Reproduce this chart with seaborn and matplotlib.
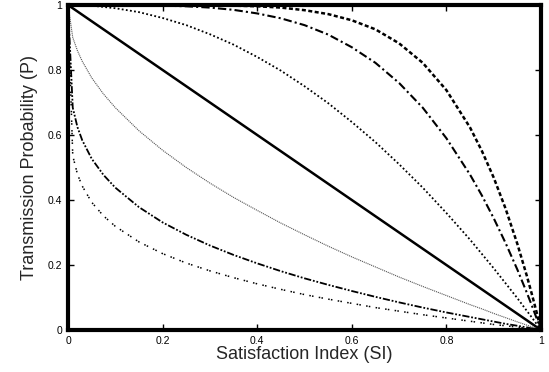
import pandas as pd
import matplotlib
matplotlib.use("Agg")
import matplotlib.pyplot as plt
import seaborn as sns

# values
si = [0, 0.01, 0.02, 0.03, 0.05, 0.075, 0.1, 0.15, 0.2, 0.25, 0.3, 0.35, 0.4, 0.45,
      0.5, 0.55, 0.6, 0.65, 0.7, 0.75, 0.8, 0.85, 0.875, 0.9, 0.925, 0.95, 0.97,
      0.98, 0.99, 1]

p_linear = [1, 0.99, 0.98, 0.97, 0.95, 0.925, 0.9, 0.85, 0.8, 0.75, 0.7, 0.65, 0.6, 0.55,
            0.5, 0.45, 0.4, 0.35, 0.3, 0.25, 0.2, 0.15, 0.125, 0.1, 0.075, 0.05, 0.03,
            0.02, 0.01, 0]

p_high1 = [1, 1, 1, 0.999, 0.998, 0.994, 0.99, 0.978, 0.96, 0.938, 0.91, 0.878, 0.84, 0.798,
           0.75, 0.698, 0.64, 0.578, 0.51, 0.438, 0.36, 0.278, 0.234, 0.19, 0.144, 0.098, 0.059,
           0.04, 0.02, 0]
p_high2 = [1, 1, 1, 1, 1, 1, 1, 0.9995, 0.998, 0.996, 0.992, 0.985, 0.974, 0.959,
           0.938, 0.909, 0.87, 0.822, 0.76, 0.684, 0.59, 0.478, 0.414, 0.344, 0.268, 0.186, 0.115,
           0.078, 0.039, 0]
p_high3 = [1, 1, 1, 1, 1, 1, 1, 1, 1, 1, 0.999, 0.998, 0.996, 0.992,
           0.984, 0.972, 0.953, 0.925, 0.882, 0.822, 0.738, 0.623, 0.551, 0.469, 0.374, 0.265, 0.167,
           0.114, 0.059, 0]

p_low1 = [1, 0.9, 0.859, 0.827, 0.776, 0.726, 0.684, 0.613, 0.553, 0.5, 0.452, 0.408, 0.368, 0.329,
          0.293, 0.258, 0.225, 0.194, 0.163, 0.134, 0.106, 0.078, 0.065, 0.051, 0.038, 0.025, 0.015,
          0.01, 0.005, 0]
p_low2 = [1, 0.684, 0.624, 0.584, 0.527, 0.477, 0.438, 0.378, 0.331, 0.293, 0.26, 0.231, 0.205, 0.181,
          0.159, 0.139, 0.12, 0.102, 0.085, 0.069, 0.054, 0.04, 0.033, 0.026, 0.019, 0.013, 0.008,
          0.005, 0.003, 0]
p_low3 = [1, 0.536, 0.479, 0.443, 0.393, 0.351, 0.319, 0.271, 0.235, 0.206, 0.182, 0.161, 0.142, 0.125,
          0.109, 0.095, 0.082, 0.069, 0.058, 0.047, 0.037, 0.027, 0.022, 0.017, 0.013, 0.009, 0.005,
          0.003, 0.002, 0]

x_ticks = [0, 0.2, 0.4, 0.6, 0.8, 1]
x_tick_labels = ["0", "0.2", "0.4", "0.6", "0.8", "1"]
y_ticks = [0, 0.2, 0.4, 0.6, 0.8, 1]
y_tick_labels = ["0", "0.2", "0.4", "0.6", "0.8", "1"]

sns.set_style("ticks")
plt.rcParams['font.family'] = ['Liberation Sans', 'DejaVu Sans']

fig = plt.figure(figsize=(5.49, 3.72), dpi=100)
ax = fig.add_axes([0.1239, 0.1129, 0.8615, 0.8737])

curves = [
    (p_high3, dict(color="black", lw=1.8, dashes=(1.6, 1.0))),
    (p_high2, dict(color="black", lw=1.5, dashes=(4, 1.5, 1, 1.5))),
    (p_high1, dict(color="black", lw=1.3, dashes=(1, 1.3))),
    (p_linear, dict(color="black", lw=1.8)),
    (p_low1, dict(color="#555555", lw=0.8, dashes=(1, 0.8))),
    (p_low2, dict(color="black", lw=1.3, dashes=(4, 1, 1, 1, 1, 1))),
    (p_low3, dict(color="black", lw=1.1, dashes=(1, 0.8, 1, 3.5))),
]

for values, style in curves:
    df = pd.DataFrame({"SI": si, "P": values})
    dashes = style.pop("dashes", None)
    line_ax = sns.lineplot(data=df, x="SI", y="P", ax=ax, **style)
    if dashes is not None:
        line_ax.lines[-1].set_dashes(dashes)

ax.set_xlim(0, 1)
ax.set_ylim(0, 1)
ax.set_xticks(x_ticks)
ax.set_xticklabels(x_tick_labels)
ax.set_yticks(y_ticks)
ax.set_yticklabels(y_tick_labels)
ax.tick_params(direction="in", length=4, width=1, labelsize=7.5,
               top=True, right=True, pad=4, colors="black")
for side in ax.spines.values():
    side.set_linewidth(3)
    side.set_color("black")

ax.set_xlabel("Satisfaction Index (SI)", fontsize=13, labelpad=0)
ax.set_ylabel("Transmission Probability (P)", fontsize=13, labelpad=7)

fig.savefig("out.png", dpi=100)
